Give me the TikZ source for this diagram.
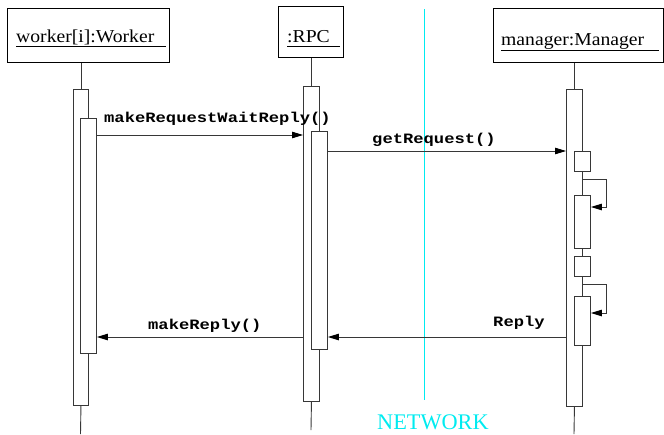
\documentclass[tikz,border=0pt]{standalone}
\usepackage{fontspec}
\setmainfont{Liberation Serif}
\newfontfamily\lblfont[FakeStretch=1.08]{Liberation Serif}
\newfontfamily\msgfont[FakeStretch=1.2]{Liberation Mono}
\usetikzlibrary{arrows.meta}
\definecolor{netcyan}{RGB}{0,235,240}
\definecolor{ln}{RGB}{55,55,55}
\tikzset{
  objbox/.style={draw=black, line width=0.9pt, anchor=north west, inner sep=0pt},
  act/.style={draw=ln, line width=0.9pt, fill=white, anchor=north west, inner sep=0pt},
  life/.style={draw=ln, line width=0.9pt},
  msg/.style={draw=ln, line width=0.9pt, -{Triangle[length=11pt,width=6.5pt,color=black]}},
  objlbl/.style={anchor=base west, inner sep=0pt, font=\lblfont\fontsize{18.2}{20}\selectfont},
  msglbl/.style={anchor=base west, inner sep=0pt, font=\msgfont\bfseries\fontsize{14.3}{16}\selectfont},
  uline/.style={draw=black, line width=0.8pt}
}
\begin{document}
\begin{tikzpicture}[x=1pt,y=-1pt]
\useasboundingbox (0,0) rectangle (664,434);

% object boxes
\node[objbox, minimum width=162, minimum height=54] (wbox) at (7,8) {};
\node[objbox, minimum width=65, minimum height=51] (rbox) at (278,6) {};
\node[objbox, minimum width=170, minimum height=54] (mbox) at (493,8) {};

% object names (underlined)
\node[objlbl] (wlbl) at (16,42) {worker[i]:Worker};
\node[objlbl] (rlbl) at (287,42) {:RPC};
\node[objlbl] (mlbl) at (501,45.5) {manager:Manager};
\draw[uline] ([yshift=-4pt]wlbl.base west) -- ++(150,0);
\draw[uline] ([yshift=-4pt]rlbl.base west) -- ++(53,0);
\draw[uline] ([yshift=-4.5pt]mlbl.base west) -- ++(158,0);

% network boundary
\coordinate (ntop) at (424,9);
\coordinate (nbot) at (424,400);
\draw[netcyan, line width=0.9pt] (ntop) -- (nbot);
\node[anchor=base west, inner sep=0pt, text=netcyan, font=\fontsize{22.3}{25}\selectfont] (net) at (377,429) {NETWORK};

% lifeline ends
\coordinate (wend) at (80.5,434);
\coordinate (rend) at (311,430);
\coordinate (mend) at (574,434);

% activations: worker
\node[act, minimum width=15, minimum height=316] (wA) at (73,89) {};
\draw[life] (wbox.south -| wA.north) -- (wA.north);
\draw[life] (wA.south) -- (wend);
\node[act, minimum width=16, minimum height=235] (wI) at (80,118) {};

% activations: RPC
\node[act, minimum width=16, minimum height=315] (rA) at (303,86) {};
\draw[life] (rbox.south -| rA.north) -- (rA.north);
\draw[life] (rA.south) -- (rend);
\node[act, minimum width=16, minimum height=218] (rI) at (311,131) {};

% activations: manager
\node[act, minimum width=16, minimum height=317] (mA) at (566,89) {};
\draw[life] (mbox.south -| mA.north) -- (mA.north);
\draw[life] (mA.south) -- (mend);
\node[act, minimum width=16, minimum height=20] (m1) at (574,151) {};
\node[act, minimum width=16, minimum height=53] (m2) at (574,195) {};
\node[act, minimum width=16, minimum height=20] (m3) at (574,256) {};
\node[act, minimum width=16, minimum height=49] (m4) at (574,296) {};

% self calls of the manager
\coordinate (s1a) at (582,179);
\coordinate (s1b) at (606,207);
\draw[msg] (s1a) -| (s1b) -- (m2.east |- s1b);
\coordinate (s2a) at (582,284);
\coordinate (s2b) at (606,313);
\draw[msg] (s2a) -| (s2b) -- (m4.east |- s2b);

% messages
\draw[msg] (wI.east |- 0,135) -- (rA.west |- 0,135);
\node[msglbl] (l1) at (104,122) {makeRequestWaitReply()};
\draw[msg] (rI.east |- 0,151) -- (mA.west |- 0,151);
\node[msglbl] (l2) at (372,143) {getRequest()};
\draw[msg] (mA.west |- 0,337) -- (rI.east |- 0,337);
\node[msglbl] (l3) at (493,326) {Reply};
\draw[msg] (rA.west |- 0,337) -- (wI.east |- 0,337);
\node[msglbl] (l4) at (148,329) {makeReply()};
\end{tikzpicture}
\end{document}
